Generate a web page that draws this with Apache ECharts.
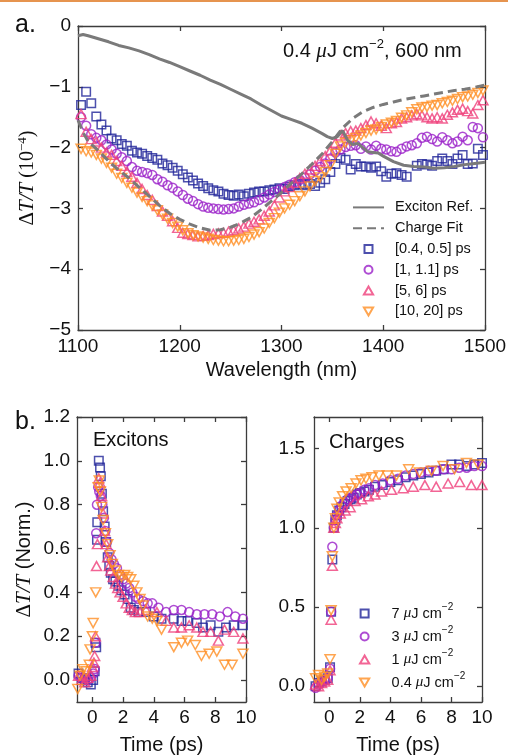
<!DOCTYPE html>
<html>
<head>
<meta charset="utf-8">
<script src="https://cdn.jsdelivr.net/npm/echarts@6/dist/echarts.min.js"></script>
<style>
html,body{margin:0;padding:0;background:#fff;}
#chart{width:508px;height:755px;}
</style>
</head>
<body>
<div id="chart"></div>
<script>
// ---------- (a) transient spectra, 0.4 uJ cm^-2, 600 nm pump ----------
const wavelengths = [
  1103,1108,1113,1118,1123,1128,1133,1138,1143,1148,
  1153,1158,1163,1168,1173,1178,1183,1188,1193,1198,
  1203,1208,1213,1218,1223,1228,1233,1238,1243,1248,
  1253,1258,1263,1268,1273,1278,1283,1288,1293,1298,
  1303,1308,1313,1318,1323,1328,1333,1338,1343,1348,
  1353,1358,1363,1368,1373,1378,1383,1388,1393,1398,
  1403,1408,1413,1418,1423,1428,1433,1438,1443,1448,
  1453,1458,1463,1468,1473,1478,1483,1488,1493,1498
];
const spec_04_05ps = [
  -1.30,-1.08,-1.27,-1.49,-1.62,-1.72,-1.85,-1.88,-1.94,-1.97,
  -2.05,-2.08,-2.10,-2.14,-2.17,-2.20,-2.26,-2.29,-2.33,-2.38,
  -2.44,-2.49,-2.54,-2.59,-2.63,-2.67,-2.70,-2.72,-2.76,-2.78,
  -2.79,-2.77,-2.80,-2.76,-2.74,-2.72,-2.72,-2.70,-2.69,-2.67,
  -2.68,-2.64,-2.62,-2.60,-2.62,-2.60,-2.63,-2.58,-2.52,-2.40,
  -2.27,-2.17,-2.20,-2.36,-2.27,-2.31,-2.31,-2.33,-2.31,-2.39,
  -2.48,-2.43,-2.42,-2.45,-2.48,null,-2.30,-2.27,-2.28,-2.30,
  -2.22,-2.18,-2.22,-2.27,-2.18,-2.12,-2.27,-2.26,-2.02,-2.12
];
const spec_1_11ps = [
  -1.50,-1.64,-1.78,-1.84,-1.88,-1.95,-2.03,-2.10,-2.16,-2.22,
  -2.32,-2.38,-2.40,-2.42,-2.45,-2.52,-2.56,-2.62,-2.66,-2.72,
  -2.78,-2.84,-2.88,-2.93,-2.97,-2.99,-3.00,-3.01,-3.02,-3.01,
  -3.00,-2.97,-2.94,-2.92,-2.90,-2.86,-2.82,-2.77,-2.73,-2.69,
  -2.65,-2.61,-2.57,-2.53,-2.49,-2.44,-2.38,-2.32,-2.26,-2.18,
  -2.08,-2.03,-1.99,-1.97,-1.96,-2.02,-1.98,-2.03,-1.97,-2.02,
  -2.03,-2.06,-2.07,-2.02,-1.98,-1.96,-1.93,-1.84,-1.82,-1.86,
  -1.90,-1.83,-1.88,-1.93,-1.90,-1.82,-1.88,-1.66,-1.68,-1.83
];
const spec_5_6ps = [
  -1.45,-1.74,-1.86,-1.90,-2.00,-2.08,-2.12,-2.22,-2.30,-2.40,
  -2.48,-2.58,-2.68,-2.78,-2.86,-2.96,-3.05,-3.12,-3.21,-3.32,
  -3.40,-3.42,-3.44,-3.46,-3.45,-3.44,-3.42,-3.41,-3.40,-3.38,
  -3.36,-3.33,-3.30,-3.25,-3.22,-3.18,-3.12,-3.05,-2.95,-2.82,
  -2.72,-2.65,-2.58,-2.50,-2.43,-2.36,-2.30,-2.22,-2.14,-2.05,
  -1.92,-1.80,-1.76,-1.73,-1.72,-1.68,-1.63,-1.57,-1.60,-1.64,
  -1.68,-1.60,-1.58,-1.52,-1.50,-1.47,-1.45,-1.47,-1.50,-1.52,
  -1.50,-1.52,-1.46,-1.42,-1.38,-1.36,-1.40,-1.44,-1.30,-1.22
];
const spec_10_20ps = [
  -2.02,-2.06,-2.08,-2.12,-2.18,-2.25,-2.33,-2.43,-2.50,-2.58,
  -2.66,-2.74,-2.81,-2.88,-2.95,-3.03,-3.10,-3.17,-3.24,-3.30,
  -3.36,-3.41,-3.44,-3.46,-3.48,-3.50,-3.52,-3.53,-3.54,-3.54,
  -3.53,-3.52,-3.50,-3.47,-3.43,-3.39,-3.33,-3.24,-3.16,-3.07,
  -3.00,-2.94,-2.88,-2.80,-2.72,-2.64,-2.55,-2.49,-2.40,-2.29,
  -2.10,-1.98,-1.92,-1.88,-1.84,-1.80,-1.76,-1.72,-1.70,-1.66,
  -1.62,-1.59,-1.56,-1.51,-1.47,-1.42,-1.37,-1.34,-1.33,-1.31,
  -1.30,-1.27,-1.25,-1.23,-1.20,-1.17,-1.16,-1.13,-1.10,-1.06
];
const excitonRefNm = [1100,1105,1110,1120,1130,1140,1150,1160,1170,1180,1190,1200,1210,1220,1230,1240,1250,1260,1270,1280,1290,1300,1310,1320,1330,1340,1345,1350,1355,1360,1365,1370,1375,1380,1385,1390,1395,1400,1410,1420,1430,1440,1450,1460,1470,1480,1490,1500];
const excitonRef = [-0.16,-0.14,-0.16,-0.21,-0.26,-0.32,-0.36,-0.41,-0.47,-0.54,-0.60,-0.67,-0.74,-0.81,-0.89,-0.96,-1.04,-1.12,-1.20,-1.30,-1.39,-1.48,-1.54,-1.60,-1.68,-1.77,-1.82,-1.85,-1.82,-1.72,-1.88,-1.95,-1.93,-2.00,-2.07,-2.08,-2.09,-2.14,-2.23,-2.29,-2.31,-2.32,-2.34,-2.33,-2.31,-2.28,-2.26,-2.24];
const chargeFitNm = [1100,1105,1110,1120,1130,1140,1150,1160,1170,1180,1190,1200,1210,1220,1230,1240,1250,1260,1270,1280,1290,1300,1310,1320,1330,1340,1350,1360,1370,1380,1390,1400,1410,1420,1430,1440,1450,1460,1470,1480,1490,1500];
const chargeFit = [-1.55,-1.75,-1.90,-2.05,-2.22,-2.37,-2.50,-2.65,-2.80,-2.95,-3.08,-3.18,-3.26,-3.32,-3.36,-3.35,-3.31,-3.24,-3.15,-3.02,-2.88,-2.74,-2.58,-2.43,-2.27,-2.10,-1.90,-1.68,-1.52,-1.41,-1.34,-1.29,-1.25,-1.21,-1.18,-1.15,-1.12,-1.09,-1.06,-1.04,-1.01,-0.97];

// ---------- (b) normalised kinetics: [time (ps), dT/T] ----------
const excitons7 = [[-0.9,0.03],[-0.7,0.01],[-0.5,0.0],[-0.3,-0.01],[-0.1,-0.02],[0.05,0.0],[0.15,0.04],[0.2,0.17],[0.25,0.15],[0.3,0.64],[0.32,0.72],[0.42,1.0],[0.5,0.97],[0.55,0.93],[0.62,0.85],[0.7,0.77],[0.8,0.70],[0.9,0.63],[1.0,0.56],[1.1,0.52],[1.2,0.49],[1.35,0.46],[1.5,0.45],[1.7,0.43],[1.9,0.41],[2.1,0.39],[2.3,0.37],[2.5,0.33],[2.7,0.32],[3.0,0.31],[3.5,0.31],[4.0,0.29],[4.5,0.28],[5.3,0.28],[5.8,0.27],[6.2,0.27],[6.8,0.26],[7.2,0.24],[7.7,0.25],[8.2,0.22],[8.7,0.24],[9.2,0.25],[9.8,0.25]];
const excitons3 = [[-0.9,0.02],[-0.7,0.01],[-0.5,0.01],[-0.3,0.0],[-0.1,0.01],[0.05,0.03],[0.15,0.05],[0.2,0.17],[0.25,0.67],[0.3,0.80],[0.38,0.88],[0.45,0.86],[0.55,0.84],[0.65,0.80],[0.75,0.74],[0.85,0.68],[0.95,0.63],[1.1,0.58],[1.25,0.55],[1.4,0.53],[1.6,0.51],[1.8,0.48],[2.0,0.46],[2.2,0.44],[2.4,0.42],[2.6,0.40],[2.8,0.38],[3.0,0.37],[3.3,0.36],[3.6,0.35],[3.9,0.35],[4.3,0.33],[4.8,0.31],[5.3,0.32],[5.8,0.32],[6.3,0.31],[6.8,0.30],[7.3,0.30],[7.8,0.30],[8.3,0.29],[8.8,0.31],[9.3,0.29],[9.8,0.28]];
const excitons1 = [[-0.9,0.02],[-0.7,0.0],[-0.5,-0.01],[-0.3,0.01],[-0.1,0.02],[0.0,0.06],[0.1,0.08],[0.15,0.11],[0.2,0.2],[0.27,0.52],[0.33,0.62],[0.42,0.92],[0.5,0.90],[0.6,0.84],[0.7,0.76],[0.8,0.68],[0.9,0.62],[1.0,0.56],[1.1,0.52],[1.2,0.50],[1.35,0.47],[1.5,0.44],[1.65,0.42],[1.8,0.40],[2.0,0.38],[2.2,0.35],[2.4,0.33],[2.6,0.32],[2.8,0.31],[3.1,0.31],[3.5,0.32],[4.2,0.31],[4.8,0.27],[5.3,0.24],[5.8,0.24],[6.3,0.25],[6.8,0.24],[7.2,0.22],[7.7,0.22],[8.2,0.18],[8.6,0.23],[9.2,0.22],[9.8,0.19]];
const excitons04 = [[-0.95,-0.04],[-0.8,0.02],[-0.6,0.05],[-0.4,0.04],[-0.2,0.07],[-0.15,0.14],[0.0,0.2],[0.05,0.26],[0.22,0.40],[0.38,0.88],[0.45,0.91],[0.52,0.86],[0.6,0.79],[0.7,0.73],[0.85,0.67],[1.0,0.62],[1.15,0.57],[1.3,0.53],[1.5,0.50],[1.7,0.48],[1.9,0.47],[2.1,0.48],[2.3,0.47],[2.5,0.46],[2.7,0.43],[2.9,0.40],[3.1,0.37],[3.3,0.34],[3.6,0.29],[3.9,0.28],[4.2,0.27],[4.5,0.23],[5.3,0.15],[5.8,0.17],[6.2,0.18],[6.7,0.16],[7.1,0.11],[7.6,0.12],[8.1,0.13],[8.6,0.07],[9.1,0.07],[9.8,0.12]];

const charges7 = [[-0.9,0.0],[-0.7,0.02],[-0.5,0.03],[-0.3,0.04],[-0.1,0.05],[0.05,0.12],[0.12,0.47],[0.2,0.80],[0.3,1.0],[0.4,1.05],[0.5,1.08],[0.65,1.11],[0.8,1.13],[1.0,1.15],[1.2,1.17],[1.4,1.18],[1.6,1.19],[1.8,1.21],[2.0,1.22],[2.3,1.23],[2.6,1.24],[3.0,1.26],[3.5,1.27],[4.0,1.29],[4.5,1.30],[5.0,1.32],[5.5,1.33],[6.0,1.34],[6.5,1.35],[7.0,1.36],[7.5,1.37],[8.0,1.40],[8.5,1.40],[9.0,1.39],[9.5,1.40],[10.0,1.41]];
const charges3 = [[-0.9,-0.01],[-0.7,0.01],[-0.5,0.03],[-0.3,0.04],[-0.1,0.05],[0.05,0.11],[0.12,0.47],[0.2,0.88],[0.3,1.0],[0.4,1.05],[0.5,1.08],[0.65,1.11],[0.8,1.14],[1.0,1.16],[1.2,1.18],[1.4,1.19],[1.6,1.20],[1.8,1.21],[2.0,1.22],[2.3,1.24],[2.6,1.25],[3.0,1.27],[3.5,1.28],[4.0,1.30],[4.5,1.31],[5.0,1.33],[5.5,1.34],[6.0,1.35],[6.5,1.36],[7.0,1.36],[7.5,1.37],[8.0,1.37],[8.5,1.38],[9.0,1.38],[9.5,1.39],[10.0,1.39]];
const charges1 = [[-0.9,0.01],[-0.7,0.0],[-0.5,0.02],[-0.3,0.03],[-0.1,0.04],[0.05,0.10],[0.12,0.42],[0.2,0.76],[0.3,1.0],[0.4,1.03],[0.5,1.06],[0.72,1.09],[1.04,1.11],[1.37,1.13],[1.69,1.17],[2.12,1.18],[2.56,1.20],[2.99,1.21],[3.43,1.23],[4.08,1.24],[4.84,1.25],[5.5,1.26],[6.26,1.27],[7.0,1.26],[7.78,1.28],[8.54,1.29],[9.3,1.27],[10.0,1.27]];
const charges04 = [[-0.9,0.05],[-0.7,0.07],[-0.5,0.04],[-0.3,0.06],[-0.1,0.08],[0.05,0.17],[0.12,0.48],[0.2,0.82],[0.3,1.0],[0.4,1.06],[0.5,1.12],[0.65,1.16],[0.87,1.20],[1.1,1.23],[1.43,1.25],[1.75,1.28],[2.08,1.30],[2.4,1.31],[2.8,1.32],[3.25,1.33],[3.8,1.33],[4.4,1.33],[5.2,1.37],[5.9,1.35],[6.7,1.36],[7.45,1.39],[8.2,1.37],[8.98,1.41],[9.74,1.40]];

const timeTicks = [0,2,4,6,8,10];
const excitonTicks = [0,0.2,0.4,0.6,0.8,1.0,1.2];
const chargeTicks = [0,0.5,1.0,1.5];

const spectrumNames = ['[0.4, 0.5] ps','[1, 1.1] ps','[5, 6] ps','[10, 20] ps'];
const fluenceNames = ['7 μJ cm−2','3 μJ cm−2','1 μJ cm−2','0.4 μJ cm−2'];
const fluenceLabels = ['7 ','3 ','1 ','0.4 '];

// ---------- styling ----------
const SANS = '"Liberation Sans", Arial, Helvetica, sans-serif';
const SERIF = '"Liberation Serif", "DejaVu Serif", serif';
const AXC = '#3c3c3c';
const GREY = '#7a7a7a';
const COLORS = ['#1f2399', '#9a1fc8', '#ef3f7b', '#ff8e24'];
// hollow markers: square, circle, up-triangle, down-triangle
const MARKERS = [
  {symbol: 'path://M0,0H10V10H0Z', size: 8.5},
  {symbol: 'circle', size: 9},
  {symbol: 'path://M5,0L10,8.66L0,8.66Z', size: [10, 9]},
  {symbol: 'path://M0,0L10,0L5,8.66Z', size: [10, 9]}
];

function axis(o) {
  const ax = {
    type: 'value', gridIndex: o.grid, min: o.min, max: o.max,
    position: o.position,
    splitLine: {show: false},
    axisLine: {show: true, onZero: false, lineStyle: {color: AXC, width: 1.3}},
    axisTick: {show: true, inside: true, length: 5, lineStyle: {color: AXC, width: 1.3}},
    axisLabel: {show: o.labels !== false, color: '#111', fontFamily: SANS, fontSize: 19,
      margin: o.margin || 7, formatter: o.fmt}
  };
  if (o.interval !== undefined) ax.interval = o.interval;
  if (o.ticks) {
    ax.axisTick.customValues = o.ticks;
    ax.axisLabel.customValues = o.ticks;
  }
  if (o.name) {
    ax.name = o.name; ax.nameLocation = 'middle'; ax.nameGap = o.nameGap;
    ax.nameTextStyle = o.nameStyle;
    if (o.nameRotate !== undefined) ax.nameRotate = o.nameRotate;
  }
  return ax;
}

const plainFmt = v => String(v).replace('-', '\u2212');
const oneDec = v => v.toFixed(1);

const xTitleStyle = {fontFamily: SANS, fontSize: 20, color: '#111'};
const yTopTitle = {
  rich: {
    d: {fontFamily: SERIF, fontSize: 21, color: '#111', lineHeight: 24},
    i: {fontFamily: SERIF, fontStyle: 'italic', fontSize: 21, color: '#111', lineHeight: 24},
    s: {fontFamily: SERIF, fontSize: 20, color: '#111', lineHeight: 24},
    p: {fontFamily: SERIF, fontSize: 13, color: '#111', lineHeight: 12, verticalAlign: 'top'}
  }
};
const yBotTitle = {
  rich: {
    d: {fontFamily: SERIF, fontSize: 21, color: '#111', lineHeight: 24},
    i: {fontFamily: SERIF, fontStyle: 'italic', fontSize: 21, color: '#111', lineHeight: 24},
    n: {fontFamily: SANS, fontSize: 20, color: '#111', lineHeight: 24}
  }
};

const xAxes = [
  axis({grid: 0, min: 1100, max: 1500, interval: 100, position: 'bottom', margin: 7, fmt: plainFmt,
    name: 'Wavelength (nm)', nameGap: 30, nameStyle: xTitleStyle}),
  axis({grid: 0, min: 1100, max: 1500, interval: 100, position: 'top', labels: false}),
  axis({grid: 1, min: -1, max: 10, ticks: timeTicks, position: 'bottom', margin: 6, fmt: plainFmt,
    name: 'Time (ps)', nameGap: 33, nameStyle: xTitleStyle}),
  axis({grid: 1, min: -1, max: 10, ticks: timeTicks, position: 'top', labels: false}),
  axis({grid: 2, min: -1, max: 10, ticks: timeTicks, position: 'bottom', margin: 6, fmt: plainFmt,
    name: 'Time (ps)', nameGap: 33, nameStyle: xTitleStyle}),
  axis({grid: 2, min: -1, max: 10, ticks: timeTicks, position: 'top', labels: false})
];
const yAxes = [
  axis({grid: 0, min: -5, max: 0, interval: 1, position: 'left', margin: 7, fmt: plainFmt,
    name: '{d|Δ}{i|T/T}{s| (10}{p|−4}{s|)}', nameGap: 35, nameRotate: 90, nameStyle: yTopTitle}),
  axis({grid: 0, min: -5, max: 0, interval: 1, position: 'right', labels: false}),
  axis({grid: 1, min: -0.1, max: 1.2, ticks: excitonTicks, position: 'left', margin: 7, fmt: oneDec,
    name: '{d|Δ}{i|T/T}{n| (Norm.)}', nameGap: 41, nameRotate: 90, nameStyle: yBotTitle}),
  axis({grid: 1, min: -0.1, max: 1.2, ticks: excitonTicks, position: 'right', labels: false}),
  axis({grid: 2, min: -0.1, max: 1.7, ticks: chargeTicks, position: 'left', margin: 9, fmt: oneDec}),
  axis({grid: 2, min: -0.1, max: 1.7, ticks: chargeTicks, position: 'right', labels: false})
];

function markerSeries(name, idx, data, axisIdx) {
  const m = MARKERS[idx];
  return {
    type: 'scatter', name: name, data: data,
    xAxisIndex: axisIdx, yAxisIndex: axisIdx,
    symbol: m.symbol, symbolSize: m.size,
    itemStyle: {color: 'rgba(255,255,255,0)', borderColor: COLORS[idx], borderWidth: 1.5},
    emphasis: {disabled: true}, silent: true, z: 2
  };
}

const pair = (xs, ys) => xs.map((x, i) => [x, ys[i]]).filter(p => p[1] !== null);
const spectra = [spec_04_05ps, spec_1_11ps, spec_5_6ps, spec_10_20ps];
const excitonSets = [excitons7, excitons3, excitons1, excitons04];
const chargeSets = [charges7, charges3, charges1, charges04];

const series = [];
spectra.forEach((s, i) => series.push(markerSeries(spectrumNames[i], i, pair(wavelengths, s), 0)));
series.push({
  type: 'line', name: 'Exciton Ref.', xAxisIndex: 0, yAxisIndex: 0,
  data: pair(excitonRefNm, excitonRef), symbol: 'none',
  lineStyle: {color: GREY, width: 3}, itemStyle: {color: GREY}, z: 3, silent: true
});
series.push({
  type: 'line', name: 'Charge Fit', xAxisIndex: 0, yAxisIndex: 0,
  data: pair(chargeFitNm, chargeFit), symbol: 'none',
  lineStyle: {color: GREY, width: 3, type: [9, 5]}, itemStyle: {color: GREY}, z: 3, silent: true
});
excitonSets.forEach((s, i) => series.push(markerSeries(fluenceNames[i], i, s, 2)));
chargeSets.forEach((s, i) => series.push(markerSeries(fluenceNames[i], i, s, 4)));

const legendRich = {
  n: {fontFamily: SANS, fontSize: 14.5, color: '#111', lineHeight: 23},
  m: {fontFamily: SERIF, fontStyle: 'italic', fontSize: 15, color: '#111', lineHeight: 23},
  s: {fontFamily: SANS, fontSize: 10, color: '#111', lineHeight: 14, verticalAlign: 'top'}
};
const hiddenDot = {color: 'rgba(0,0,0,0)', borderWidth: 0, opacity: 0};

const option = {
  animation: false,
  backgroundColor: '#fff',
  grid: [
    {left: 78, top: 26, width: 407, height: 304, containLabel: false, outerBoundsMode: 'none'},
    {left: 77, top: 417, width: 169, height: 285, containLabel: false, outerBoundsMode: 'none'},
    {left: 314, top: 417, width: 168, height: 285, containLabel: false, outerBoundsMode: 'none'}
  ],
  xAxis: xAxes,
  yAxis: yAxes,
  legend: [
    {
      data: [
        {name: 'Exciton Ref.', itemStyle: hiddenDot},
        {name: 'Charge Fit', itemStyle: hiddenDot}
      ].concat(spectrumNames),
      orient: 'vertical', left: 347, top: 192, itemWidth: 31, itemHeight: 8, itemGap: 0,
      selectedMode: false, symbolKeepAspect: true,
      textStyle: {fontFamily: SANS, fontSize: 14.5, color: '#111', lineHeight: 20.8, padding: [0, 0, 0, 6]}
    },
    {
      data: fluenceNames,
      orient: 'vertical', left: 354, top: 597, itemWidth: 44, itemHeight: 8, itemGap: 0,
      selectedMode: false, symbolKeepAspect: true,
      formatter: name => {
        const i = fluenceNames.indexOf(name);
        return '{n|' + fluenceLabels[i] + '}{m|μ}{n|J cm}{s|−2}';
      },
      textStyle: {rich: legendRich, lineHeight: 23}
    }
  ],
  graphic: [
    {type: 'rect', left: 0, top: 0, shape: {width: 508, height: 2}, style: {fill: '#e6944f'}, silent: true},
    {type: 'text', left: 15, top: 13, style: {text: 'a.', font: '25px ' + SANS, fill: '#111'}},
    {type: 'text', left: 15, top: 410, style: {text: 'b.', font: '25px ' + SANS, fill: '#111'}},
    {type: 'text', left: 93, top: 430, style: {text: 'Excitons', font: '20px ' + SANS, fill: '#111'}},
    {type: 'text', left: 329, top: 432, style: {text: 'Charges', font: '20px ' + SANS, fill: '#111'}},
    {type: 'text', left: 283, top: 38, style: {
      text: '{n|0.4 }{m|μ}{n|J cm}{s|−2}{n|, 600 nm}',
      rich: {
        n: {fontFamily: SANS, fontSize: 20, fill: '#111', lineHeight: 26},
        m: {fontFamily: SERIF, fontStyle: 'italic', fontSize: 21, fill: '#111', lineHeight: 26},
        s: {fontFamily: SANS, fontSize: 13, fill: '#111', lineHeight: 14, verticalAlign: 'top'}
      }
    }}
  ],
  series: series
};

const chart = echarts.init(document.getElementById('chart'), null, {renderer: 'canvas'});
chart.setOption(option);
</script>
</body>
</html>
